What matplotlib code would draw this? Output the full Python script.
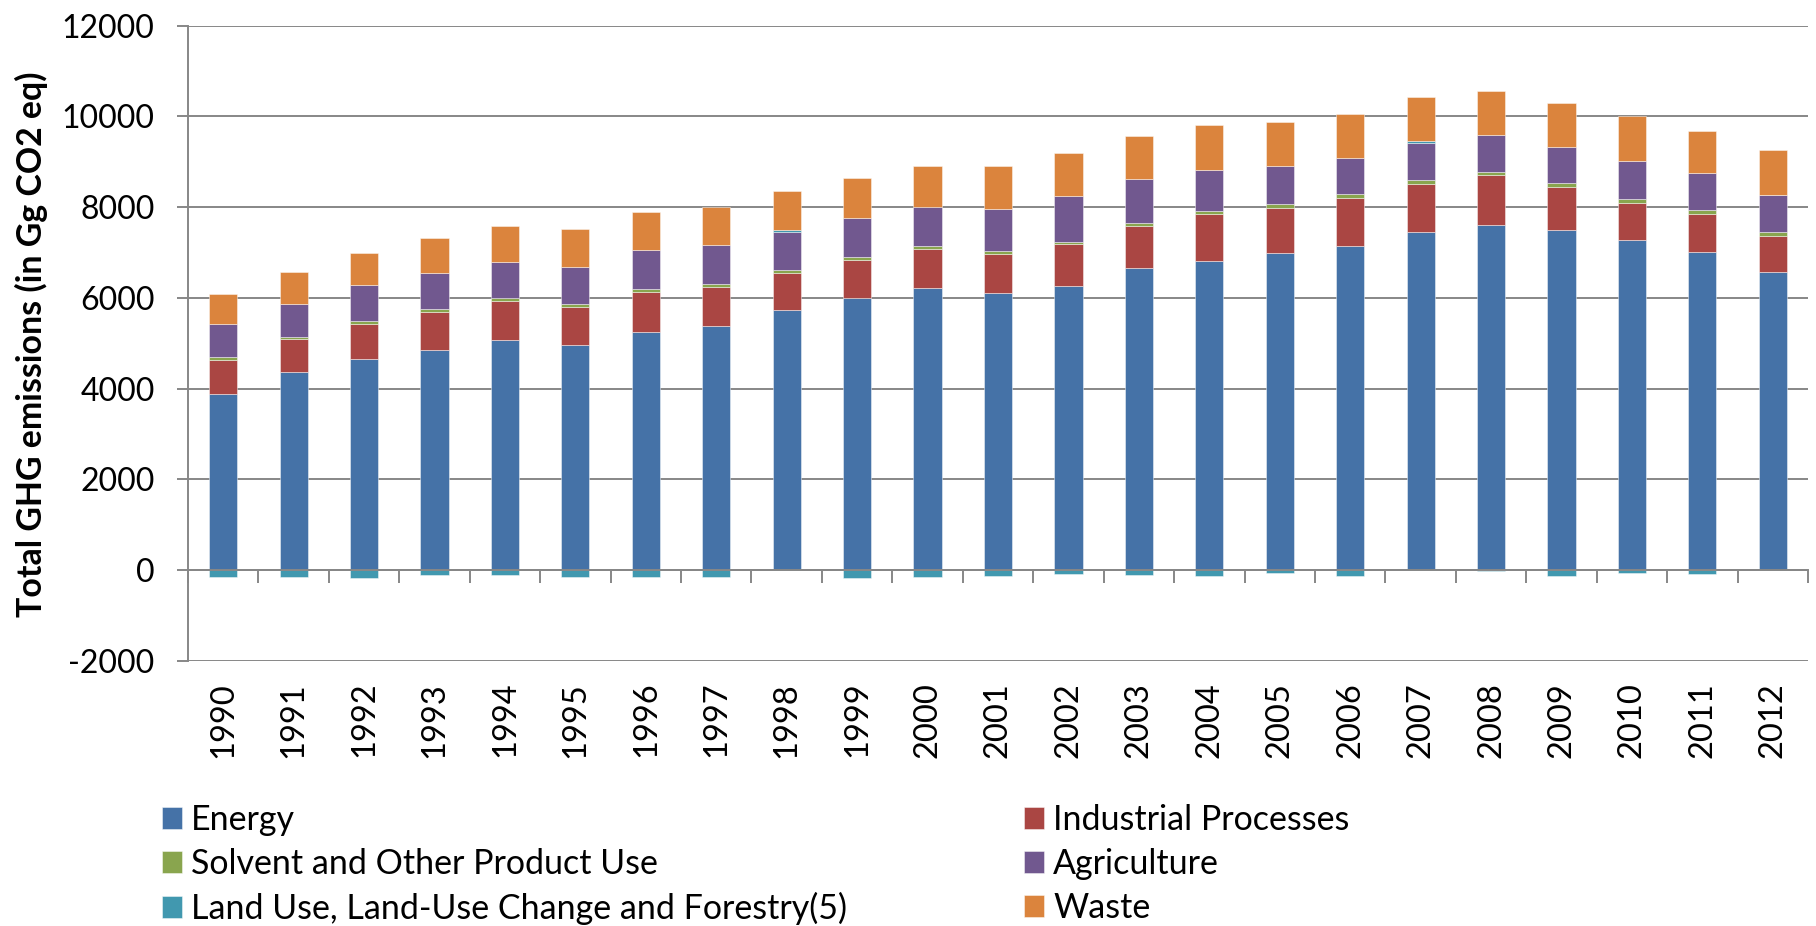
import numpy as np
import matplotlib
matplotlib.use("Agg")
import matplotlib.pyplot as plt

plt.rcParams['font.family'] = ['Lato', 'DejaVu Sans']
plt.rcParams['axes.unicode_minus'] = False

years = [str(y) for y in range(1990, 2013)]
energy = [3883, 4367, 4660, 4850, 5063, 4960, 5238, 5370, 5729, 5986, 6213, 6103,
          6271, 6653, 6807, 6982, 7151, 7444, 7598, 7502, 7268, 7019, 6565]
industrial = [747, 718, 755, 836, 857, 828, 902, 880, 821, 843, 872, 857,
              909, 923, 1033, 1004, 1055, 1055, 1099, 946, 828, 835, 805]
solvent = [66, 58, 73, 58, 66, 73, 58, 58, 66, 65, 66, 66,
           59, 66, 73, 73, 73, 88, 73, 88, 88, 81, 81]
agriculture = [719, 726, 791, 813, 813, 828, 865, 850, 843, 865, 857, 938,
               996, 967, 908, 850, 806, 828, 820, 791, 820, 820, 807]
lulucf = [-140, -155, -170, -100, -115, -150, -155, -150, 30, -170, -150, -125,
          -85, -115, -135, -60, -135, 50, -10, -135, -60, -85, 0]
waste = [673, 696, 718, 762, 784, 828, 835, 850, 871, 879, 894, 938,
         953, 959, 982, 975, 974, 967, 967, 974, 997, 931, 996]

series_names = ["Energy", "Industrial Processes", "Solvent and Other Product Use",
                "Agriculture", "Land Use, Land-Use Change and Forestry(5)", "Waste"]
series_values = [energy, industrial, solvent, agriculture, lulucf, waste]
colors = ["#4572A7", "#AA4643", "#89A54E", "#71588F", "#4198AF", "#DB843D"]

W, H = 1816, 926
fig = plt.figure(figsize=(W / 100, H / 100), dpi=100)
ax = fig.add_axes([188 / W, 1 - 661 / H, 1620 / W, (661 - 25.5) / H])

gray = "#878787"
x = np.arange(len(years))
pos_bottom = np.zeros(len(years))
neg_bottom = np.zeros(len(years))
handles = []
for name, vals, c in zip(series_names, series_values, colors):
    v = np.array(vals, dtype=float)
    bottom = np.where(v >= 0, pos_bottom, neg_bottom)
    b = ax.bar(x, v, 0.4, bottom=bottom, color=c, edgecolor=(1, 1, 1, 0.45),
               linewidth=0.7, label=name, zorder=2)
    handles.append(b)
    pos_bottom = pos_bottom + np.where(v >= 0, v, 0)
    neg_bottom = neg_bottom + np.where(v < 0, v, 0)

ax.set_xlim(-0.5, len(years) - 0.5)
ax.set_ylim(-2000, 12000)
ax.set_yticks(np.arange(-2000, 12001, 2000))
ax.yaxis.grid(True, color=gray, linewidth=1.4, zorder=0)
ax.set_axisbelow(True)
for s in ["top", "right", "bottom"]:
    ax.spines[s].set_visible(False)
ax.spines["left"].set_color(gray)
ax.spines["left"].set_linewidth(1.4)
ax.tick_params(axis="y", length=8, width=1.4, color=gray, pad=16, labelsize=23)
ax.set_xticks(x)
ax.set_xticklabels(years, rotation=90)
ax.tick_params(axis="x", length=0, pad=15, labelsize=23.5)

# category axis crossing at zero
sec = ax.secondary_xaxis(2000 / 14000)
sec.set_xticks(np.arange(-0.5, len(years), 1.0))
sec.tick_params(axis="x", length=9, width=1.4, color=gray, labelbottom=False)
sec.spines["bottom"].set_color(gray)
sec.spines["bottom"].set_linewidth(1.4)
sec.set_zorder(5)

fig.text(31 / W, 1 - 344 / H, "Total GHG emissions (in Gg CO2 eq)", rotation=90,
         ha="center", va="center", fontsize=24.4, fontweight="bold")

common = dict(frameon=False, fontsize=24.5, handlelength=0.59, handleheight=0.59,
              handletextpad=0.27, labelspacing=0.35, borderpad=0, borderaxespad=0,
              loc="upper left")
order1 = [0, 2, 4]
order2 = [1, 3, 5]
fig.legend([handles[i] for i in order1], [series_names[i] for i in order1],
           bbox_to_anchor=(162 / W, 1 - 804 / H), **common)
fig.legend([handles[i] for i in order2], [series_names[i] for i in order2],
           bbox_to_anchor=(1024 / W, 1 - 804 / H), **common)

fig.savefig("out.png", dpi=100)
